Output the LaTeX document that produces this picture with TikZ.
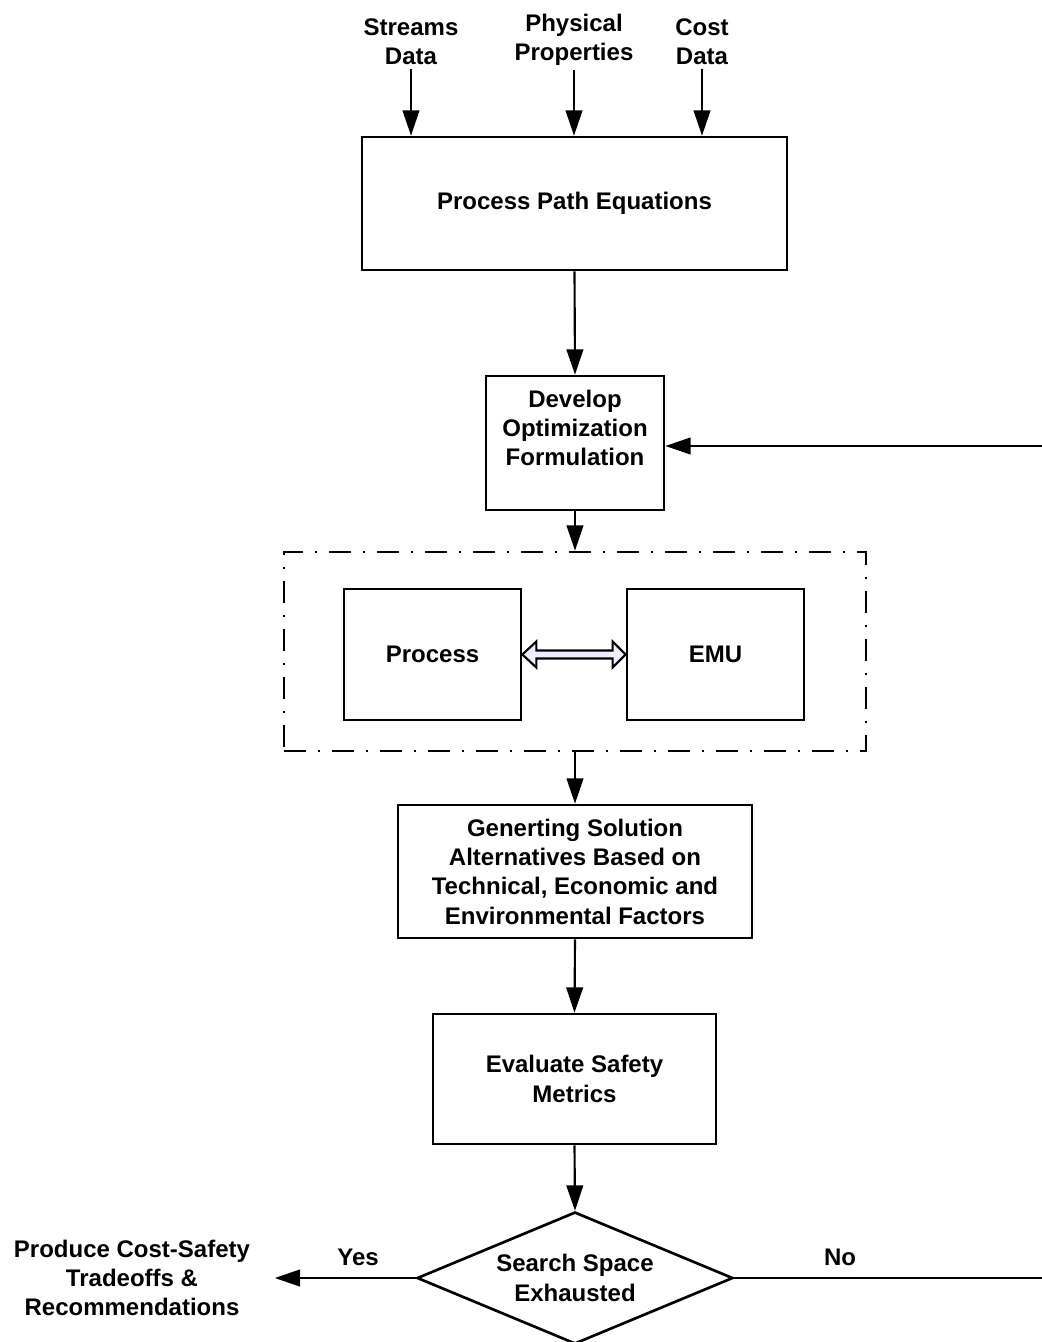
\documentclass[tikz,border=0pt]{standalone}
\usepackage{fontspec}
\setmainfont{Liberation Sans}
\usetikzlibrary{arrows.meta,calc,shapes.geometric}
\tikzset{
  every node/.style={font=\fontsize{18}{22}\selectfont\bfseries, align=center},
  box/.style={draw, line width=2pt, inner sep=0pt, line join=miter},
  lbl/.style={inner sep=3pt},
  conn/.style={line width=1.6pt, -{Triangle[length=19pt,width=12.5pt]}},
  plainline/.style={line width=1.6pt},
  dashbox/.style={draw, line width=2pt, dash pattern=on 16.5pt off 9pt on 1.5pt off 9pt},
  dblarrow/.style={draw, line width=1.6pt, fill=blue!7, line join=miter},
}
\begin{document}
\begin{tikzpicture}[x=0.75pt,y=-0.75pt]
\useasboundingbox (0,0) rectangle (1042,1342);

% input labels
\node[lbl] (sd) at (411,42) {Streams\\Data};
\node[lbl] (pp) at (574,40) {Physical\\Properties};
\node[lbl] (cd) at (702,42) {Cost\\Data};

% boxes
\node[box, minimum width=318.75pt, minimum height=99.75pt] (ppe) at (574.5,203.5) {Process Path Equations};
\node[box, minimum width=133.5pt, minimum height=100.5pt] (dev) at (575,443) {};
\node (devt) at ($(dev.center)+(0,-15)$) {Develop\\Optimization\\Formulation};
\node[dashbox, minimum width=436.5pt, minimum height=149.25pt] (grp) at (575,651.5) {};
\node[box, minimum width=132.75pt, minimum height=98.25pt] (proc) at (432.5,654.5) {Process};
\node[box, minimum width=132.75pt, minimum height=98.25pt] (emu) at (715.5,654.5) {EMU};
\node[box, minimum width=265.5pt, minimum height=99.75pt] (gen) at (575,871.5) {Generting Solution\\Alternatives Based on\\Technical, Economic and\\Environmental Factors};
\node[box, minimum width=212.25pt, minimum height=97.5pt] (eval) at (574.5,1079) {Evaluate Safety\\Metrics};
\node[box, shape=diamond, aspect=2.39, minimum width=237pt, minimum height=99pt] (dec) at (575,1278) {Search Space\\Exhausted};

\node (out) at (132,1278) {Produce Cost-Safety\\Tradeoffs \&\\Recommendations};
\node (yes) at (358,1257) {Yes};
\node (no) at (840,1257) {No};

\coordinate (fbA) at (1042,1278);
\coordinate (fbB) at (1042,446);

% connectors
\draw[conn] (sd.south) -- (sd.south |- ppe.north);
\draw[conn] (pp.south) -- (pp.south |- ppe.north);
\draw[conn] (cd.south) -- (cd.south |- ppe.north);
\draw[conn] (ppe.south) -- (dev.north);
\draw[conn] (dev.south) -- (dev.south |- grp.north);
\draw[conn] (grp.south) -- (gen.north);
\draw[conn] (gen.south) -- (eval.north);
\draw[conn] (eval.south) -- (dec.north);
\draw[conn, shorten >=15pt] (dec.west) -- (out.east);
\draw[plainline] (dec.east) -- (fbA);
\draw[conn] (fbB) -- (fbB -| dev.east);

% double hollow arrow
\coordinate (L) at (proc.east);
\coordinate (R) at (emu.west);
\draw[dblarrow] (L) -- ++(14,-13) -- ++(0,9) -- ($(R)+(-13,-4)$) -- ++(0,-9) -- (R)
  -- ++(-13,13) -- ++(0,-9) -- ($(L)+(14,4)$) -- ++(0,9) -- cycle;
\end{tikzpicture}
\end{document}
